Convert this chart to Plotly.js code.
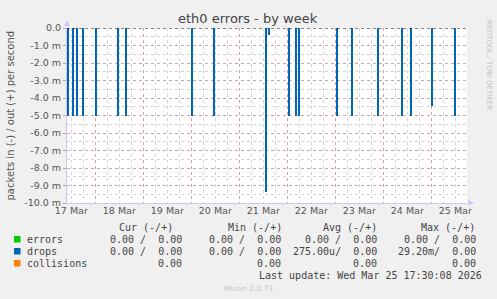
<!DOCTYPE html>
<html>
<head>
<meta charset="utf-8">
<script src="https://cdn.plot.ly/plotly-3.0.1.min.js"></script>
<style>html,body{margin:0;padding:0;background:#f0f0f0;}#chart{width:497px;height:299px;}</style>
</head>
<body>
<div id="chart"></div>
<script>
// ---- data ----
const spikeTimes = [
  '2026-03-17 10:20','2026-03-17 12:50','2026-03-17 14:50',
  '2026-03-17 17:50','2026-03-18 00:20','2026-03-18 11:20',
  '2026-03-18 15:20','2026-03-20 00:20','2026-03-20 11:20','2026-03-21 13:20',
  '2026-03-21 14:50','2026-03-22 00:50','2026-03-22 04:20','2026-03-22 05:50',
  '2026-03-23 00:50','2026-03-23 08:20','2026-03-23 21:20','2026-03-24 09:20',
  '2026-03-24 13:50','2026-03-25 00:20','2026-03-25 11:50'
];
const dropsIn = [
  -0.0050,-0.0050,-0.0050,
  -0.0050,-0.0050,-0.0050,
  -0.0050,-0.0050,-0.0050,-0.00935,
  -0.0004,-0.0050,-0.0050,-0.0050,
  -0.0050,-0.0050,-0.0050,-0.0050,
  -0.0050,-0.00445,-0.0050
];
const xRange = ['2026-03-17 09:50','2026-03-25 17:50'];
const dayLines = ['2026-03-18','2026-03-19','2026-03-20','2026-03-21','2026-03-22','2026-03-23','2026-03-24','2026-03-25'];
const dayLabelPos = ['2026-03-17 12:00','2026-03-18 12:00','2026-03-19 12:00','2026-03-20 12:00','2026-03-21 12:00','2026-03-22 12:00','2026-03-23 12:00','2026-03-24 12:00','2026-03-25 12:00'];
const dayLabels = ['17 Mar','18 Mar','19 Mar','20 Mar','21 Mar','22 Mar','23 Mar','24 Mar','25 Mar'];
const yTickVals = [0,-0.001,-0.002,-0.003,-0.004,-0.005,-0.006,-0.007,-0.008,-0.009,-0.010];
const yTickText = ['0.0','-1.0 m','-2.0 m','-3.0 m','-4.0 m','-5.0 m','-6.0 m','-7.0 m','-8.0 m','-9.0 m','-10.0 m'];

const seriesNames = ['errors','drops','collisions'];
const seriesColors = ['#00cc00','#0066b3','#ff8000'];
const curVals = ['0.00 /  0.00','0.00 /  0.00','0.00'];
const minVals = ['0.00 /  0.00','0.00 /  0.00','0.00'];
const avgVals = ['0.00 /  0.00','275.00u/  0.00','0.00'];
const maxVals = ['0.00 /  0.00','29.20m/  0.00','0.00'];
const colHeaders = ['Cur (-/+)','Min (-/+)','Avg (-/+)','Max (-/+)'];

// ---- layout geometry (pixels) ----
const L = 67, R = 467, T = 28, B = 203, W = 497, H = 299;
const px = x => (x - L) / (R - L);
const py = y => (B - y) / (B - T);

const mono = 'DejaVu Sans Mono, monospace';
const sans = 'DejaVu Sans, sans-serif';
const txt = '#444';

const annotations = [];
const shapes = [];
function ann(x, y, text, anchor, extra) {
  annotations.push(Object.assign({
    xref: 'paper', yref: 'paper', x: px(x), y: py(y), text: text,
    showarrow: false, xanchor: anchor, yanchor: 'middle',
    font: {family: mono, size: 10, color: txt}, borderpad: 0
  }, extra || {}));
}
// headers
const headerEnds = [174, 283, 378, 476];
colHeaders.forEach((h, i) => ann(headerEnds[i], 227, h, 'right'));
// rows
const rowY = [239.5, 251.5, 263.5];
const valEnds = [183, 282, 378, 477];
seriesNames.forEach((n, i) => {
  shapes.push({type: 'rect', xref: 'paper', yref: 'paper',
    x0: px(14), x1: px(20.5), y0: py(rowY[i] - 3.5), y1: py(rowY[i] + 3.0),
    fillcolor: seriesColors[i], line: {width: 0}});
  ann(26, rowY[i], n, 'left');
  [curVals, minVals, avgVals, maxVals].forEach((arr, j) => ann(valEnds[j], rowY[i], arr[i], 'right'));
});
ann(483, 275.5, 'Last update: Wed Mar 25 17:30:08 2026', 'right');
ann(248, 288.5, 'Munin 2.0.73', 'center', {font: {family: sans, size: 7.5, color: '#c8c8c8'}});
ann(248, 18.5, 'eth0 errors - by week', 'center', {font: {family: sans, size: 13, color: '#444'}});
ann(489, 65, 'RRDTOOL / TOBI OETIKER', 'center', {textangle: 90, font: {family: sans, size: 7, color: '#c4c4c4'}});
ann(10, 115.5, 'packets in (-) / out (+) per second', 'center', {textangle: -90, font: {family: sans, size: 10, color: '#555'}});

// axis arrows
shapes.push({type: 'path', xref: 'paper', yref: 'paper',
  path: `M ${px(64)} ${py(26)} L ${px(70)} ${py(26)} L ${px(67)} ${py(20)} Z`,
  fillcolor: '#c8c8ff', line: {width: 0}});
shapes.push({type: 'path', xref: 'paper', yref: 'paper',
  path: `M ${px(468)} ${py(200)} L ${px(468)} ${py(206)} L ${px(474)} ${py(203)} Z`,
  fillcolor: '#c8c8ff', line: {width: 0}});

const traces = [
  {type: 'bar', x: spikeTimes, y: dropsIn, width: 3600000,
   marker: {color: '#0066b3', line: {width: 0}}, hoverinfo: 'skip', xaxis: 'x', yaxis: 'y'},
  {type: 'scatter', mode: 'lines', x: xRange, y: [0, 0], line: {color: '#111', width: 1, dash: 'dot'},
   hoverinfo: 'skip', xaxis: 'x2', yaxis: 'y'}
];

const layout = {
  width: W, height: H,
  paper_bgcolor: '#f0f0f0', plot_bgcolor: '#ffffff',
  margin: {l: L, r: W - R, t: T, b: H - B, pad: 0},
  showlegend: false,
  bargap: 0,
  xaxis: {
    type: 'date', range: xRange, fixedrange: true,
    tickmode: 'array', tickvals: dayLines, ticktext: dayLines.map(() => ''),
    showticklabels: false, ticks: '',
    showgrid: true, gridcolor: 'rgba(220,120,120,0.55)', gridwidth: 1, griddash: 'dot',
    minor: {dtick: 6 * 3600000, tick0: '2026-03-17', showgrid: true, gridcolor: '#d4d4d4', griddash: 'dot', gridwidth: 1},
    showline: true, linecolor: '#c8c8f0', linewidth: 1, zeroline: false
  },
  xaxis2: {
    type: 'date', range: xRange, overlaying: 'x', anchor: 'y', side: 'bottom', fixedrange: true,
    tickmode: 'array', tickvals: dayLabelPos, ticktext: dayLabels,
    showgrid: false, ticks: '', ticklen: 0, zeroline: false, showline: false,
    tickfont: {family: sans, size: 9.5, color: '#555'}
  },
  yaxis: {
    range: [-0.010, 0], fixedrange: true,
    tickmode: 'array', tickvals: yTickVals, ticktext: yTickText,
    ticks: 'outside', ticklen: 3, tickcolor: 'rgba(220,120,120,0.8)', tickwidth: 1,
    tickfont: {family: sans, size: 9.5, color: '#555'},
    showgrid: true, gridcolor: 'rgba(220,120,120,0.55)', griddash: 'dot', gridwidth: 1,
    minor: {dtick: 0.0005, showgrid: true, gridcolor: '#d4d4d4', griddash: 'dot', gridwidth: 1},
    showline: true, linecolor: '#c8c8f0', linewidth: 1, zeroline: false
  },
  annotations: annotations,
  shapes: shapes
};

Plotly.newPlot('chart', traces, layout, {staticPlot: true, displayModeBar: false});
</script>
</body>
</html>
